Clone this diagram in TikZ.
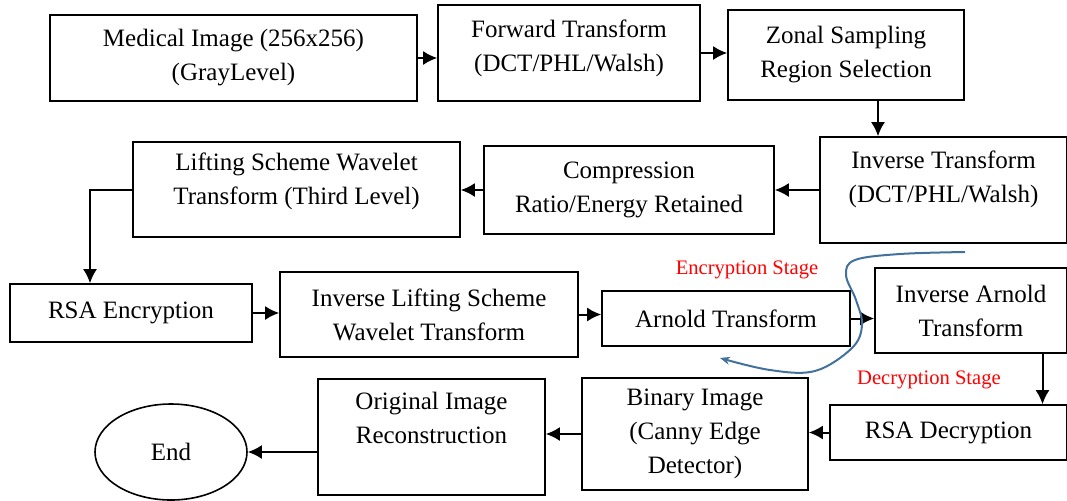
\documentclass[tikz,border=0pt]{standalone}
\usepackage{fontspec}
\setmainfont{Liberation Serif}
\usetikzlibrary{arrows.meta,shapes.geometric,positioning}

\begin{document}
\begin{tikzpicture}[x=0.5pt,y=-0.5pt,>={Latex[length=7pt,width=7pt]},line width=0.8pt]
	\tikzset{box/.style = {rectangle,draw=black,line width=0.8pt,align=center,inner sep=0pt,font=\fontsize{12.5}{17}\selectfont}}
	\tikzset{stage/.style = {text=red,inner sep=0pt,font=\fontsize{10.3}{12}\selectfont}}
	\tikzset{edge/.style = {->,line width=1pt}}
	\useasboundingbox (0,0) rectangle (1067,500);
	% blocks
	\node[box,minimum width=183.5pt,minimum height=43pt] (a) at (233.5,58) {Medical Image (256x256)\\(GrayLevel)};
	\node[box,minimum width=131pt,minimum height=48pt,text depth=7pt] (b) at (569,53) {Forward Transform\\(DCT/PHL/Walsh)};
	\node[box,minimum width=118pt,minimum height=45pt] (c) at (846,55) {Zonal Sampling\\Region Selection};
	\node[box,minimum width=123.5pt,minimum height=53pt,text depth=13pt] (d) at (943.5,190) {Inverse Transform\\(DCT/PHL/Walsh)};
	\node[box,minimum width=145pt,minimum height=44pt] (e) at (629,190) {Compression\\Ratio/Energy Retained};
	\node[box,minimum width=163.5pt,minimum height=47.5pt,text depth=10.5pt] (f) at (296.5,189.5) {Lifting Scheme Wavelet\\Transform (Third Level)};
	\node[box,minimum width=121pt,minimum height=29pt] (g) at (131,313) {RSA Encryption};
	\node[box,minimum width=149pt,minimum height=42.5pt] (h) at (429,314.5) {Inverse Lifting Scheme\\Wavelet Transform};
	\node[box,minimum width=124pt,minimum height=27.5pt] (i) at (726,318.5) {Arnold Transform};
	\node[box,minimum width=96pt,minimum height=42.5pt] (j) at (971,310.5) {Inverse Arnold\\Transform};
	\node[box,minimum width=118.5pt,minimum height=27.5pt] (k) at (948.5,432.5) {RSA Decryption};
	\node[box,minimum width=113pt,minimum height=56pt] (l) at (695,434) {Binary Image\\(Canny Edge\\Detector)};
	\node[box,minimum width=113.5pt,minimum height=58pt,text depth=19pt] (m) at (431.5,437) {Original Image\\Reconstruction};
	\node[box,ellipse,minimum width=76pt,minimum height=48pt] (n) at (171,452) {End};
	% stage labels
	\node[stage] (enc) at (747,270) {Encryption Stage};
	\node[stage] (dec) at (929,380) {Decryption Stage};
	%edges
	\path (a.east) edge[edge] (a.east -| b.west);
	\path (b.east) edge[edge] (b.east -| c.west);
	\path ([xshift=16pt]c.south) edge[edge] ([xshift=16pt]c.south |- d.north);
	\path (d.west) edge[edge] (d.west -| e.east);
	\path (e.west) edge[edge] (e.west -| f.east);
	\draw[edge] (f.west) -| ([xshift=-20.5pt]g.north);
	\path (g.east) edge[edge] (g.east -| h.west);
	\path (h.east) edge[edge] (h.east -| i.west);
	\path (i.east) edge[edge] (i.east -| j.west);
	\path ([xshift=35.75pt]j.south) edge[edge] ([xshift=35.75pt]j.south |- k.north);
	\path (k.west) edge[edge] (k.west -| l.east);
	\path (l.west) edge[edge] (l.west -| m.east);
	\path (m.west |- n.east) edge[edge] (n.east);
	% stage divider
	\draw[draw={rgb,255:red,65;green,113;blue,156},line width=1pt,-{Stealth[length=5pt,width=4pt]}]
		plot[smooth,tension=0.6] coordinates {(965,252) (900,254) (855,260) (846,275) (856,300) (862,325) (852,348) (815,371) (770,370) (720,358)};
\end{tikzpicture}
\end{document}
